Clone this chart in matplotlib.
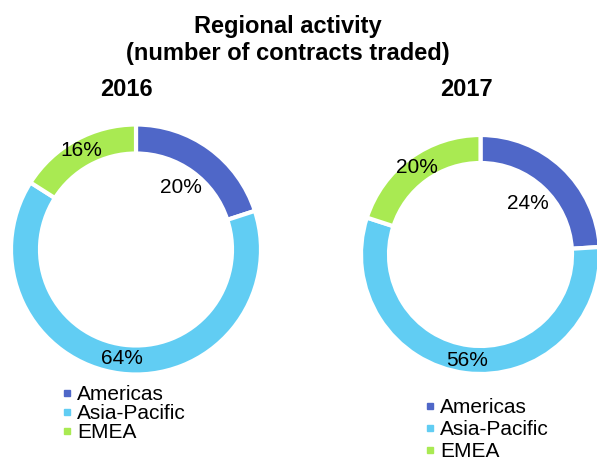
import numpy as np
import matplotlib.pyplot as plt
from matplotlib.lines import Line2D

plt.rcParams['font.family'] = ['Liberation Sans', 'DejaVu Sans']

# Data
regions = ['Americas', 'Asia-Pacific', 'EMEA']
share_2016 = [20, 64, 16]
share_2017 = [24, 56, 20]
colors = ['#4F67C8', '#61CDF3', '#A9EA52']

W, H = 597, 461
fig = plt.figure(figsize=(W / 100, H / 100), dpi=100)
ax = fig.add_axes([0, 0, 1, 1])


def donut(values, cx, cy, r, width, label_frac):
    wedges, _ = ax.pie(values, colors=colors, startangle=90, counterclock=False,
                       radius=r, center=(cx, cy),
                       wedgeprops=dict(width=width, edgecolor='white', linewidth=3))
    for w, v, f in zip(wedges, values, label_frac):
        ang = np.deg2rad((w.theta1 + w.theta2) / 2)
        ax.text(cx + f * r * np.cos(ang), cy + f * r * np.sin(ang), f'{v}%',
                ha='center', va='center', fontsize=15, color='black')
    return wedges


w16 = donut(share_2016, 136, H - 249.5, 125, 29, [0.61, 0.88, 0.90])
w17 = donut(share_2017, 480.5, H - 254.5, 119.5, 28, [0.58, 0.89, 0.90])

ax.set_xlim(0, W)
ax.set_ylim(0, H)
ax.set_aspect('auto')
ax.axis('off')

# Titles
fig.text(288 / W, 1 - 33 / H, 'Regional activity', ha='center', va='baseline',
         fontsize=17, fontweight='bold')
fig.text(288 / W, 1 - 60 / H, '(number of contracts traded)', ha='center', va='baseline',
         fontsize=17, fontweight='bold')
fig.text(126 / W, 1 - 96 / H, '2016', ha='center', va='baseline',
         fontsize=17, fontweight='bold')
fig.text(466 / W, 1 - 96 / H, '2017', ha='center', va='baseline',
         fontsize=17, fontweight='bold')

# Legends
handles = [Line2D([], [], marker='s', linestyle='none', markersize=5,
                  markerfacecolor=c, markeredgecolor=c) for c in colors]
leg1 = ax.legend(handles, regions, loc='upper left', bbox_to_anchor=(63, H - 385),
                 bbox_transform=ax.transData, frameon=False, fontsize=15,
                 handlelength=0.35, handletextpad=0.34, borderpad=0, borderaxespad=0,
                 labelspacing=0.0)
ax.add_artist(leg1)
ax.legend(handles, regions, loc='upper left', bbox_to_anchor=(426.5, H - 398),
          bbox_transform=ax.transData, frameon=False, fontsize=15,
          handlelength=0.35, handletextpad=0.31, borderpad=0, borderaxespad=0,
          labelspacing=0.15)

fig.savefig('out.png', dpi=100)
